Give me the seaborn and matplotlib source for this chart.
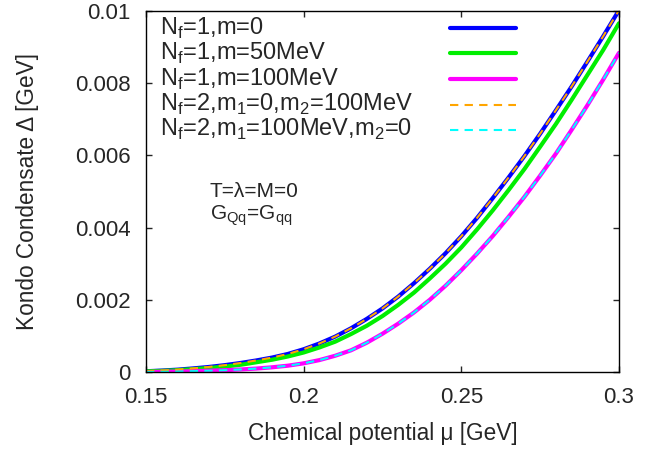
import numpy as np
import matplotlib
matplotlib.use("Agg")
import matplotlib.pyplot as plt
import pandas as pd
import seaborn as sns

# chemical potential grid [GeV] and condensate values
mu = [0.150, 0.155, 0.160, 0.165, 0.170, 0.175, 0.180, 0.185, 0.190, 0.195,
      0.200, 0.205, 0.210, 0.215, 0.220, 0.225, 0.230, 0.235, 0.240, 0.245,
      0.250, 0.255, 0.260, 0.265, 0.270, 0.275, 0.280, 0.285, 0.290, 0.295, 0.300]

# Nf=1, m=0
d_m0 = [0.00002, 0.00004, 0.000065, 0.0001, 0.00014, 0.00019, 0.00025, 0.00032, 0.0004, 0.0005,
        0.00063, 0.00079, 0.00098, 0.00121, 0.00147, 0.00176, 0.00209, 0.00246, 0.00286, 0.00329,
        0.00376, 0.00427, 0.00482, 0.00539, 0.00598, 0.0066, 0.00725, 0.00791, 0.0086, 0.0093, 0.01002]

# Nf=1, m=50MeV
d_m50 = [0.00002, 0.00003, 0.00005, 0.00008, 0.00011, 0.00015, 0.0002, 0.00027, 0.00034, 0.00043,
         0.00054, 0.00068, 0.00084, 0.00105, 0.00128, 0.00155, 0.00186, 0.0022, 0.00259, 0.003,
         0.00345, 0.00395, 0.00448, 0.00504, 0.00562, 0.00624, 0.00687, 0.00754, 0.00823, 0.00892, 0.00966]

# Nf=1, m=100MeV
d_m100 = [0.0, 0.000005, 0.000013, 0.000023, 0.000035, 0.00005, 0.00007, 0.000095, 0.00013, 0.000175,
          0.00024, 0.00033, 0.00045, 0.0006, 0.00081, 0.00106, 0.00134, 0.00165, 0.002, 0.00239,
          0.00282, 0.00328, 0.00377, 0.0043, 0.00485, 0.00544, 0.00605, 0.00671, 0.00739, 0.0081, 0.00884]

# Nf=2 cases lie on top of the Nf=1 curves
d_nf2_a = list(d_m0)
d_nf2_b = list(d_m100)

labels = [r"N$_\mathregular{f}$=1,m=0",
          r"N$_\mathregular{f}$=1,m=50MeV",
          r"N$_\mathregular{f}$=1,m=100MeV",
          r"N$_\mathregular{f}$=2,m$_\mathregular{1}$=0,m$_\mathregular{2}$=100MeV",
          r"N$_\mathregular{f}$=2,m$_\mathregular{1}$=100MeV,m$_\mathregular{2}$=0"]

xticks = [0.15, 0.2, 0.25, 0.3]
xticklabels = ["0.15", "0.2", "0.25", "0.3"]
yticks = [0, 0.002, 0.004, 0.006, 0.008, 0.01]
yticklabels = ["0", "0.002", "0.004", "0.006", "0.008", "0.01"]

sns.set_style("ticks")
plt.rcParams['font.family'] = ['Liberation Sans', 'DejaVu Sans']

fig = plt.figure(figsize=(6.67, 4.49), dpi=100)
ax = fig.add_axes([0.2189, 0.1715, 0.7091, 0.804])

series = [
    (d_m0, dict(color="#0000ff", linewidth=3.0, linestyle="-")),
    (d_m50, dict(color="#00ee00", linewidth=3.0, linestyle="-")),
    (d_m100, dict(color="#ff00ff", linewidth=3.0, linestyle="-")),
    (d_nf2_a, dict(color="#ffa500", linewidth=1.5, linestyle=(0, (4, 3)))),
    (d_nf2_b, dict(color="#00ffff", linewidth=1.5, linestyle=(0, (4, 3)))),
]

for y, st in series:
    df = pd.DataFrame({"mu": mu, "delta": y})
    sns.lineplot(data=df, x="mu", y="delta", ax=ax, errorbar=None, **st)

# gnuplot-style key: text on the left, line sample on the right
text_y = [0.9335, 0.864, 0.792, 0.723, 0.654]
line_y = [0.953, 0.883, 0.811, 0.740, 0.670]
for (y, st), lab, ty, ly in zip(series, labels, text_y, line_y):
    ax.text(0.0296, ty, lab, transform=ax.transAxes, ha="left", va="baseline", fontsize=17)
    ax.plot([0.643, 0.782], [ly, ly], transform=ax.transAxes, **st)

ax.text(0.135, 0.484, "T=λ=M=0", transform=ax.transAxes, ha="left", va="baseline", fontsize=15)
ax.text(0.135, 0.423, r"G$_\mathregular{Qq}$=G$_\mathregular{qq}$", transform=ax.transAxes,
        ha="left", va="baseline", fontsize=15)

ax.set_xlim(0.15, 0.3)
ax.set_ylim(0, 0.01)
ax.set_xticks(xticks)
ax.set_xticklabels(xticklabels)
ax.set_yticks(yticks)
ax.set_yticklabels(yticklabels)
ax.tick_params(direction="in", length=4, width=1, top=True, right=True, labelsize=16)
ax.tick_params(axis="x", pad=11)
ax.tick_params(axis="y", pad=11)
for s in ax.spines.values():
    s.set_linewidth(1.0)
    s.set_color("black")
ax.set_xlabel("Chemical potential μ [GeV]", fontsize=16.3, labelpad=10)
ax.set_ylabel("Kondo Condensate Δ [GeV]", fontsize=16.3, labelpad=26)

fig.savefig("out.png", dpi=100)
